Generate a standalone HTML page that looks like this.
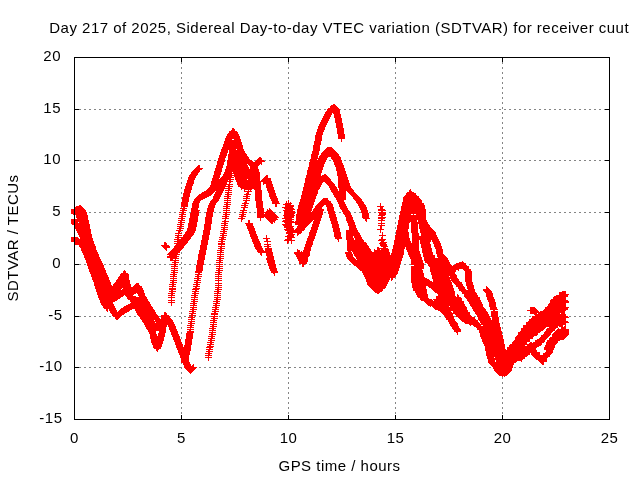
<!DOCTYPE html>
<html><head><meta charset="utf-8"><title>SDTVAR</title>
<style>
html,body{margin:0;padding:0;background:#fff;}
body{width:640px;height:480px;overflow:hidden;}
svg{display:block;will-change:transform;}
text{font-family:"Liberation Sans",sans-serif;font-size:15px;fill:#000;letter-spacing:0.49px;}
</style></head><body>
<svg width="640" height="480" viewBox="0 0 640 480">
<rect width="640" height="480" fill="#fff"/>
<path d="M181.5 57V419M288.5 57V419M395.5 57V419M502.5 57V419M74 109.5H609M74 160.5H609M74 212.5H609M74 264.5H609M74 316.5H609M74 367.5H609" stroke="#858585" stroke-width="1" stroke-dasharray="2 3" fill="none" shape-rendering="crispEdges"/>
<path d="M74.5 420v-5M74.5 57v5M181.5 420v-5M181.5 57v5M288.5 420v-5M288.5 57v5M395.5 420v-5M395.5 57v5M502.5 420v-5M502.5 57v5M609.5 420v-5M609.5 57v5M74 57.5h5M610 57.5h-5M74 109.5h5M610 109.5h-5M74 160.5h5M610 160.5h-5M74 212.5h5M610 212.5h-5M74 264.5h5M610 264.5h-5M74 316.5h5M610 316.5h-5M74 367.5h5M610 367.5h-5M74 419.5h5M610 419.5h-5" stroke="#000" stroke-width="1" fill="none" shape-rendering="crispEdges"/>
<g transform="translate(0 .5)"><path d="M333 104h2M331 105h5M330 106h7M330 107h8M328 108h11M327 109h13M327 110h13M326 111h14M325 112h15M325 113h7M333 113h7M324 114h8M334 114h7M324 115h7M334 115h7M323 116h8M334 116h7M323 117h7M334 117h7M322 118h8M335 118h7M322 119h7M335 119h7M321 120h8M335 120h7M321 121h7M335 121h7M320 122h8M335 122h7M320 123h7M336 123h7M319 124h8M336 124h7M319 125h7M336 125h7M318 126h8M336 126h7M318 127h7M336 127h7M232 128h2M318 128h7M337 128h7M232 129h3M317 129h8M337 129h7M231 130h4M317 130h7M337 130h7M229 131h8M317 131h7M337 131h7M229 132h9M316 132h7M337 132h7M228 133h10M316 133h7M337 133h7M227 134h12M316 134h7M338 134h7M227 135h12M315 135h7M338 135h7M226 136h14M315 136h7M338 136h7M226 137h14M315 137h7M338 137h7M225 138h15M315 138h7M338 138h7M225 139h7M234 139h7M315 139h7M341 139h1M225 140h16M315 140h7M341 140h1M224 141h17M314 141h7M341 141h1M224 142h18M314 142h7M224 143h18M314 143h7M223 144h19M314 144h7M223 145h20M313 145h7M223 146h20M313 146h7M222 147h21M313 147h7M327 147h5M222 148h21M313 148h7M326 148h7M221 149h15M237 149h7M313 149h7M325 149h9M221 150h7M229 150h15M313 150h7M324 150h11M221 151h7M229 151h16M312 151h7M323 151h13M220 152h8M229 152h16M312 152h7M322 152h15M220 153h7M229 153h17M312 153h7M321 153h17M220 154h7M228 154h19M311 154h8M321 154h18M219 155h8M228 155h19M311 155h7M320 155h19M219 156h7M228 156h20M311 156h7M319 156h21M219 157h7M228 157h21M259 157h2M311 157h7M319 157h9M331 157h10M218 158h7M228 158h21M258 158h4M311 158h16M331 158h10M218 159h7M228 159h22M257 159h5M310 159h7M318 159h9M332 159h9M218 160h7M227 160h25M256 160h8M310 160h16M333 160h9M217 161h8M227 161h26M255 161h10M310 161h16M333 161h9M217 162h7M227 162h35M309 162h16M334 162h8M217 163h7M227 163h35M309 163h16M334 163h9M217 164h7M227 164h20M248 164h12M261 164h1M309 164h15M334 164h9M198 165h2M216 165h7M227 165h21M249 165h10M309 165h15M335 165h9M197 166h3M216 166h7M226 166h22M250 166h8M309 166h15M335 166h9M196 167h4M216 167h7M226 167h23M250 167h8M308 167h15M336 167h8M195 168h8M215 168h7M226 168h23M250 168h8M308 168h15M336 168h9M194 169h8M215 169h7M225 169h34M308 169h15M336 169h9M193 170h7M215 170h7M225 170h34M307 170h15M336 170h9M192 171h8M214 171h8M225 171h34M307 171h15M337 171h9M191 172h8M214 172h7M224 172h8M233 172h27M307 172h15M337 172h9M191 173h7M214 173h7M224 173h36M307 173h14M337 173h9M190 174h8M214 174h7M223 174h9M234 174h26M307 174h14M324 174h2M337 174h10M189 175h8M213 175h7M223 175h37M266 175h2M306 175h15M322 175h5M337 175h10M189 176h7M213 176h7M222 176h10M234 176h26M265 176h3M306 176h22M338 176h9M188 177h8M213 177h7M221 177h13M235 177h25M264 177h4M306 177h23M338 177h10M188 178h7M212 178h7M220 178h11M235 178h25M263 178h8M305 178h25M338 178h10M188 179h7M212 179h22M235 179h12M248 179h12M262 179h9M305 179h26M338 179h10M187 180h7M212 180h16M229 180h2M236 180h24M261 180h10M305 180h26M338 180h11M187 181h7M211 181h22M236 181h36M305 181h27M338 181h11M187 182h7M211 182h16M229 182h2M237 182h24M263 182h9M305 182h18M325 182h8M338 182h11M186 183h8M211 183h16M229 183h1M237 183h24M263 183h9M304 183h18M326 183h8M338 183h12M186 184h7M211 184h22M237 184h24M263 184h1M266 184h7M304 184h18M327 184h8M338 184h12M186 185h7M210 185h16M228 185h2M238 185h23M266 185h7M304 185h17M328 185h7M338 185h12M185 186h7M210 186h23M238 186h23M266 186h7M304 186h17M329 186h7M338 186h13M185 187h7M209 187h16M228 187h2M240 187h21M266 187h8M303 187h17M329 187h8M338 187h13M185 188h7M208 188h24M241 188h20M267 188h7M303 188h17M330 188h7M339 188h13M184 189h8M207 189h17M228 189h2M241 189h1M244 189h8M254 189h7M267 189h7M303 189h16M330 189h8M339 189h14M410 189h1M184 190h7M206 190h18M225 190h7M244 190h1M248 190h1M250 190h1M255 190h7M267 190h8M303 190h15M331 190h7M339 190h15M409 190h2M184 191h7M204 191h11M216 191h7M228 191h1M244 191h8M255 191h7M268 191h7M302 191h16M331 191h15M347 191h7M409 191h3M184 192h7M202 192h12M215 192h8M225 192h7M247 192h2M255 192h7M268 192h7M302 192h16M332 192h14M348 192h7M407 192h7M183 193h7M201 193h12M215 193h7M227 193h2M246 193h3M255 193h7M269 193h7M302 193h16M333 193h13M349 193h7M406 193h10M183 194h7M199 194h13M214 194h8M225 194h7M244 194h7M255 194h7M269 194h7M302 194h15M333 194h13M350 194h7M406 194h10M183 195h7M198 195h13M214 195h7M227 195h2M246 195h2M255 195h7M269 195h7M301 195h16M334 195h12M351 195h7M405 195h12M183 196h7M197 196h12M213 196h8M224 196h7M243 196h7M255 196h7M269 196h8M301 196h15M334 196h12M352 196h7M404 196h15M182 197h7M196 197h11M213 197h7M227 197h2M246 197h2M255 197h7M270 197h7M301 197h15M335 197h11M353 197h7M403 197h16M182 198h7M195 198h10M213 198h7M224 198h7M243 198h7M255 198h7M270 198h8M301 198h15M323 198h5M336 198h10M353 198h8M403 198h17M182 199h7M194 199h9M212 199h7M227 199h1M246 199h1M255 199h7M271 199h7M300 199h15M322 199h6M336 199h10M354 199h8M403 199h18M182 200h7M194 200h7M211 200h8M224 200h7M243 200h7M255 200h7M271 200h7M288 200h1M300 200h15M321 200h8M337 200h7M355 200h7M403 200h19M182 201h7M193 201h7M210 201h8M227 201h1M245 201h2M256 201h7M272 201h7M286 201h1M288 201h1M300 201h15M320 201h11M337 201h7M356 201h7M403 201h19M181 202h7M193 202h7M210 202h7M224 202h7M244 202h3M256 202h7M272 202h7M286 202h1M288 202h1M290 202h1M299 202h15M319 202h12M338 202h7M356 202h8M402 202h20M181 203h7M192 203h7M209 203h7M226 203h2M242 203h7M256 203h7M272 203h8M285 203h7M299 203h15M318 203h14M338 203h7M357 203h7M380 203h1M402 203h22M181 204h7M192 204h7M209 204h7M224 204h7M244 204h2M256 204h7M275 204h2M283 204h8M299 204h15M317 204h16M339 204h7M358 204h7M380 204h1M402 204h22M79 205h2M181 205h7M192 205h7M208 205h7M226 205h2M241 205h7M256 205h7M275 205h2M285 205h9M298 205h15M316 205h8M326 205h7M339 205h7M358 205h8M380 205h1M402 205h23M74 206h1M76 206h6M181 206h7M192 206h7M208 206h7M223 206h7M244 206h2M256 206h7M275 206h2M285 206h9M298 206h15M315 206h8M326 206h7M339 206h8M359 206h7M377 206h7M401 206h24M74 207h9M183 207h2M192 207h7M208 207h7M226 207h2M241 207h7M256 207h7M282 207h11M298 207h15M315 207h7M327 207h7M340 207h7M359 207h8M380 207h3M401 207h24M74 208h10M180 208h7M191 208h7M207 208h7M223 208h7M243 208h2M257 208h7M269 208h1M284 208h10M298 208h14M314 208h8M327 208h7M340 208h8M360 208h7M380 208h3M401 208h24M71 209h14M182 209h3M191 209h7M207 209h7M226 209h1M243 209h2M257 209h7M267 209h1M269 209h2M285 209h10M297 209h15M313 209h11M327 209h7M341 209h7M360 209h7M378 209h7M401 209h25M71 210h15M180 210h7M191 210h9M207 210h7M223 210h7M240 210h7M257 210h7M267 210h5M283 210h10M297 210h15M313 210h11M327 210h7M342 210h7M361 210h7M378 210h8M401 210h25M71 211h15M182 211h2M191 211h8M207 211h7M226 211h1M242 211h2M257 211h7M266 211h7M284 211h11M297 211h14M312 211h11M328 211h7M342 211h8M361 211h7M381 211h2M400 211h26M71 212h16M179 212h7M191 212h8M206 212h7M223 212h7M240 212h7M257 212h17M284 212h11M297 212h26M328 212h7M343 212h7M361 212h7M378 212h8M400 212h26M71 213h16M182 213h2M190 213h9M206 213h7M225 213h2M242 213h2M257 213h7M265 213h10M284 213h11M297 213h26M328 213h7M343 213h8M362 213h7M379 213h7M400 213h26M73 214h14M179 214h7M190 214h9M206 214h7M223 214h7M239 214h7M257 214h19M284 214h10M296 214h27M329 214h7M344 214h7M362 214h7M379 214h7M400 214h11M413 214h1M416 214h10M74 215h1M76 215h12M181 215h2M190 215h9M206 215h7M225 215h2M241 215h3M257 215h20M283 215h12M296 215h26M329 215h7M345 215h7M362 215h7M378 215h7M399 215h27M74 216h1M76 216h12M179 216h7M190 216h8M206 216h7M222 216h7M239 216h7M257 216h21M284 216h10M296 216h26M329 216h7M345 216h7M362 216h7M381 216h2M399 216h27M74 217h1M76 217h12M181 217h2M190 217h8M205 217h7M225 217h2M241 217h2M257 217h7M265 217h14M284 217h10M296 217h26M329 217h8M346 217h7M362 217h7M378 217h8M399 217h27M74 218h1M77 218h11M178 218h7M189 218h9M205 218h7M222 218h7M238 218h7M260 218h1M266 218h11M282 218h10M296 218h25M330 218h7M346 218h7M363 218h7M378 218h7M399 218h27M71 219h17M181 219h2M189 219h9M205 219h7M225 219h1M241 219h2M260 219h1M267 219h11M285 219h9M296 219h25M330 219h7M346 219h7M365 219h2M381 219h2M399 219h27M71 220h18M178 220h7M189 220h9M205 220h7M224 220h2M241 220h1M248 220h2M260 220h1M268 220h8M283 220h9M296 220h17M314 220h7M330 220h7M346 220h8M365 220h2M378 220h7M398 220h19M418 220h9M71 221h18M180 221h2M189 221h9M205 221h7M222 221h7M241 221h1M248 221h2M269 221h6M282 221h12M295 221h17M313 221h7M331 221h7M347 221h7M366 221h1M381 221h1M398 221h19M418 221h9M71 222h7M79 222h10M178 222h7M189 222h8M205 222h7M224 222h2M248 222h2M270 222h3M274 222h1M284 222h27M313 222h7M331 222h7M347 222h8M381 222h1M398 222h12M411 222h17M71 223h18M180 223h2M188 223h9M205 223h7M221 223h7M245 223h8M271 223h2M285 223h7M295 223h15M313 223h7M331 223h7M348 223h7M378 223h7M398 223h11M411 223h17M72 224h18M177 224h7M188 224h9M204 224h7M224 224h2M246 224h7M282 224h10M295 224h14M312 224h7M332 224h7M348 224h7M381 224h1M398 224h11M411 224h7M419 224h10M74 225h16M180 225h2M188 225h9M204 225h7M221 225h7M246 225h7M283 225h9M298 225h10M312 225h7M332 225h7M348 225h8M378 225h7M397 225h12M411 225h7M419 225h11M74 226h16M177 226h7M188 226h9M204 226h7M224 226h1M247 226h7M284 226h10M297 226h10M312 226h7M332 226h7M349 226h7M380 226h2M397 226h12M411 226h7M419 226h11M75 227h15M179 227h2M188 227h8M204 227h7M221 227h7M247 227h7M284 227h9M297 227h9M311 227h7M332 227h7M349 227h7M380 227h2M397 227h12M411 227h7M419 227h12M75 228h15M177 228h7M187 228h9M204 228h7M223 228h2M247 228h8M286 228h8M296 228h9M311 228h7M333 228h7M349 228h8M380 228h2M397 228h12M411 228h7M419 228h13M76 229h15M179 229h2M187 229h9M204 229h7M221 229h7M248 229h7M284 229h10M295 229h10M311 229h7M333 229h7M349 229h8M377 229h7M397 229h11M411 229h7M420 229h13M76 230h15M176 230h7M187 230h9M203 230h7M223 230h2M248 230h7M285 230h19M310 230h7M333 230h7M346 230h12M380 230h1M396 230h12M411 230h7M420 230h14M77 231h14M178 231h3M186 231h9M203 231h7M220 231h7M249 231h7M287 231h15M310 231h7M333 231h7M346 231h12M380 231h1M396 231h12M411 231h7M420 231h15M77 232h14M178 232h2M185 232h10M203 232h7M223 232h2M249 232h7M286 232h16M309 232h8M334 232h7M346 232h13M380 232h1M382 232h1M396 232h13M411 232h7M420 232h16M78 233h13M175 233h7M185 233h9M203 233h7M220 233h7M249 233h7M286 233h7M297 233h4M309 233h7M334 233h7M346 233h14M382 233h1M396 233h13M412 233h7M421 233h15M74 234h1M78 234h14M178 234h1M184 234h10M203 234h7M222 234h2M250 234h7M288 234h7M297 234h2M309 234h7M334 234h7M346 234h14M382 234h1M396 234h13M412 234h7M421 234h15M74 235h1M79 235h13M175 235h7M183 235h10M202 235h7M220 235h7M250 235h7M266 235h1M287 235h7M297 235h1M309 235h7M334 235h7M346 235h15M379 235h7M395 235h14M412 235h7M421 235h16M74 236h1M79 236h13M177 236h2M183 236h9M202 236h7M222 236h2M250 236h8M266 236h1M285 236h9M308 236h7M334 236h7M346 236h7M354 236h7M382 236h1M395 236h14M412 236h25M71 237h7M80 237h12M175 237h16M202 237h7M219 237h7M251 237h7M266 237h1M287 237h8M308 237h7M335 237h7M346 237h7M354 237h8M381 237h2M395 237h14M412 237h26M71 238h8M80 238h13M177 238h2M181 238h10M202 238h7M221 238h3M251 238h7M263 238h7M287 238h5M307 238h8M335 238h7M346 238h8M355 238h7M381 238h2M395 238h15M412 238h26M71 239h22M174 239h16M202 239h7M219 239h7M252 239h7M266 239h2M285 239h7M307 239h7M337 239h2M346 239h8M355 239h8M379 239h7M395 239h15M412 239h27M71 240h22M177 240h12M201 240h7M221 240h2M252 240h7M266 240h2M284 240h11M307 240h7M338 240h1M347 240h17M378 240h7M394 240h16M412 240h7M420 240h11M432 240h7M71 241h23M174 241h14M201 241h7M218 241h7M252 241h8M264 241h7M287 241h2M291 241h1M306 241h7M338 241h1M347 241h17M381 241h3M394 241h17M412 241h7M420 241h11M432 241h8M74 242h20M164 242h2M177 242h11M201 242h7M221 242h2M253 242h7M267 242h1M287 242h2M291 242h1M306 242h7M347 242h19M380 242h7M394 242h17M412 242h7M420 242h10M433 242h7M74 243h20M164 243h3M174 243h13M201 243h7M218 243h7M253 243h8M267 243h1M287 243h1M291 243h1M306 243h7M347 243h20M379 243h7M394 243h25M420 243h10M433 243h8M74 244h21M164 244h3M176 244h10M201 244h7M218 244h7M254 244h7M264 244h7M305 244h8M347 244h20M380 244h7M394 244h25M421 244h10M434 244h7M79 245h16M161 245h8M175 245h10M200 245h7M221 245h1M254 245h7M267 245h2M305 245h7M347 245h21M380 245h7M393 245h26M421 245h10M434 245h7M79 246h17M162 246h8M174 246h10M200 246h7M218 246h7M254 246h8M264 246h7M305 246h7M347 246h22M381 246h7M393 246h26M421 246h10M434 246h8M80 247h16M163 247h7M174 247h10M200 247h7M220 247h2M255 247h7M267 247h2M304 247h7M347 247h22M377 247h2M383 247h3M393 247h12M406 247h13M421 247h10M435 247h7M81 248h15M164 248h3M173 248h10M200 248h7M218 248h7M255 248h8M265 248h7M304 248h7M347 248h23M377 248h11M393 248h12M406 248h13M422 248h10M435 248h7M81 249h15M165 249h2M172 249h10M200 249h7M220 249h2M256 249h7M265 249h7M297 249h1M304 249h7M347 249h24M374 249h1M377 249h3M381 249h8M392 249h12M406 249h13M422 249h10M436 249h7M81 250h16M166 250h1M171 250h10M199 250h7M217 250h7M257 250h7M265 250h7M297 250h3M303 250h8M347 250h24M374 250h15M392 250h12M407 250h12M422 250h10M436 250h7M82 251h15M170 251h10M199 251h7M220 251h2M257 251h15M297 251h3M301 251h1M303 251h7M348 251h3M352 251h20M374 251h15M392 251h12M407 251h13M422 251h10M436 251h7M82 252h16M169 252h11M199 252h7M217 252h7M258 252h15M294 252h16M345 252h7M353 252h37M392 252h12M408 252h12M422 252h11M436 252h7M83 253h15M168 253h10M199 253h7M220 253h1M260 253h2M266 253h7M294 253h16M345 253h7M353 253h37M391 253h13M408 253h12M423 253h10M436 253h7M83 254h16M167 254h13M198 254h8M217 254h7M260 254h2M266 254h7M295 254h15M346 254h7M354 254h36M391 254h13M408 254h13M423 254h10M437 254h7M84 255h15M169 255h8M198 255h7M220 255h1M261 255h1M266 255h7M296 255h14M346 255h7M354 255h49M409 255h12M423 255h12M437 255h8M84 256h15M167 256h12M198 256h7M217 256h7M267 256h7M296 256h13M346 256h7M355 256h48M409 256h12M423 256h12M437 256h9M84 257h16M167 257h10M198 257h7M219 257h2M267 257h7M297 257h11M347 257h7M356 257h47M410 257h12M424 257h11M438 257h9M85 258h15M170 258h9M198 258h7M217 258h7M266 258h8M297 258h11M347 258h8M356 258h46M410 258h12M424 258h24M85 259h16M170 259h3M175 259h1M198 259h7M219 259h2M266 259h8M298 259h10M348 259h8M357 259h45M411 259h11M424 259h24M86 260h15M170 260h9M197 260h7M216 260h7M267 260h8M298 260h10M349 260h53M411 260h12M424 260h25M86 261h16M174 261h2M197 261h7M219 261h2M267 261h8M299 261h9M350 261h51M411 261h12M425 261h24M462 261h1M86 262h16M172 262h7M197 262h7M216 262h7M267 262h8M299 262h8M351 262h50M411 262h12M425 262h25M459 262h5M87 263h16M174 263h2M197 263h7M219 263h1M268 263h7M299 263h8M352 263h49M411 263h13M427 263h23M456 263h10M87 264h16M171 264h7M197 264h7M216 264h7M268 264h8M302 264h3M353 264h47M411 264h13M428 264h23M455 264h11M87 265h17M174 265h2M196 265h7M219 265h1M268 265h8M302 265h2M354 265h46M414 265h10M428 265h24M453 265h14M88 266h16M171 266h7M196 266h7M216 266h7M269 266h7M302 266h2M356 266h44M411 266h13M429 266h40M88 267h16M174 267h1M196 267h7M219 267h1M269 267h7M357 267h43M411 267h13M430 267h39M88 268h17M171 268h7M196 268h7M216 268h7M269 268h8M358 268h41M411 268h13M430 268h39M89 269h16M174 269h1M196 269h7M218 269h2M270 269h7M359 269h40M411 269h11M430 269h29M463 269h8M89 270h17M124 270h1M171 270h7M196 270h7M216 270h7M270 270h7M360 270h39M411 270h12M430 270h26M458 270h1M464 270h7M89 271h17M123 271h3M173 271h2M195 271h7M218 271h2M271 271h7M362 271h36M411 271h12M430 271h26M465 271h7M90 272h16M123 272h3M171 272h7M195 272h7M215 272h7M271 272h7M362 272h36M411 272h12M431 272h24M465 272h7M90 273h17M121 273h7M173 273h2M198 273h2M218 273h2M273 273h2M363 273h35M411 273h13M431 273h24M465 273h7M91 274h16M120 274h9M170 274h7M195 274h7M215 274h7M274 274h1M363 274h34M411 274h13M431 274h25M465 274h7M91 275h17M120 275h9M173 275h2M197 275h2M218 275h1M274 275h1M364 275h32M411 275h13M432 275h25M465 275h7M91 276h17M119 276h10M170 276h7M195 276h7M215 276h7M364 276h32M411 276h13M432 276h17M450 276h7M465 276h7M92 277h17M118 277h11M173 277h1M197 277h2M218 277h1M365 277h30M411 277h14M432 277h25M465 277h7M92 278h17M118 278h11M170 278h7M194 278h7M215 278h7M365 278h25M391 278h2M411 278h16M432 278h26M465 278h7M92 279h17M117 279h12M173 279h1M197 279h2M218 279h1M366 279h24M391 279h2M411 279h18M433 279h17M451 279h8M465 279h7M93 280h17M116 280h14M170 280h7M194 280h7M215 280h7M366 280h23M391 280h1M411 280h19M433 280h26M465 280h7M93 281h17M116 281h14M172 281h2M196 281h2M218 281h1M366 281h23M411 281h21M433 281h18M452 281h8M465 281h7M94 282h17M115 282h15M170 282h7M194 282h7M218 282h1M367 282h21M411 282h41M453 282h9M466 282h7M94 283h17M114 283h16M136 283h3M172 283h2M196 283h2M215 283h7M367 283h21M412 283h40M454 283h8M466 283h7M94 284h17M113 284h18M135 284h4M169 284h7M193 284h7M218 284h1M367 284h20M412 284h40M455 284h8M466 284h7M94 285h18M113 285h18M134 285h6M172 285h2M196 285h2M215 285h7M368 285h19M412 285h41M456 285h7M466 285h8M95 286h36M133 286h9M169 286h7M193 286h7M218 286h1M369 286h17M412 286h14M428 286h25M456 286h8M467 286h7M486 286h1M95 287h47M172 287h1M195 287h2M215 287h7M370 287h16M412 287h14M429 287h24M458 287h7M467 287h7M486 287h2M95 288h27M123 288h20M169 288h7M193 288h7M217 288h2M371 288h14M413 288h13M431 288h23M458 288h7M467 288h7M486 288h3M96 289h25M122 289h21M169 289h7M192 289h7M215 289h7M372 289h11M413 289h14M432 289h22M459 289h7M468 289h7M483 289h7M96 290h48M171 290h2M195 290h2M217 290h2M373 290h10M413 290h14M433 290h21M459 290h16M483 290h8M96 291h48M169 291h7M192 291h7M214 291h7M374 291h8M415 291h12M434 291h21M461 291h14M484 291h8M562 291h4M97 292h47M171 292h2M194 292h2M217 292h2M375 292h5M415 292h12M435 292h20M462 292h14M485 292h7M559 292h7M97 293h39M137 293h8M168 293h7M192 293h7M214 293h7M377 293h2M416 293h11M437 293h18M462 293h15M486 293h7M559 293h7M97 294h37M138 294h7M171 294h2M194 294h2M217 294h1M416 294h12M438 294h17M457 294h1M464 294h13M486 294h7M559 294h10M98 295h26M125 295h8M138 295h7M168 295h7M191 295h7M214 295h7M417 295h11M438 295h17M457 295h2M464 295h14M486 295h7M556 295h12M98 296h25M126 296h10M139 296h7M171 296h1M194 296h2M217 296h1M417 296h11M436 296h20M457 296h2M464 296h14M486 296h7M554 296h14M98 297h23M127 297h20M168 297h7M191 297h7M214 297h7M418 297h10M436 297h25M465 297h15M487 297h7M553 297h13M99 298h21M127 298h20M171 298h1M194 298h1M216 298h2M420 298h9M436 298h26M466 298h14M487 298h7M553 298h13M99 299h19M128 299h20M171 299h1M191 299h7M214 299h7M420 299h12M433 299h29M467 299h13M487 299h8M551 299h15M100 300h17M130 300h18M168 300h7M193 300h2M216 300h2M421 300h12M434 300h28M467 300h14M488 300h7M550 300h18M100 301h15M130 301h19M171 301h1M191 301h7M213 301h7M424 301h40M468 301h13M488 301h7M550 301h19M100 302h13M131 302h19M168 302h7M193 302h2M216 302h2M425 302h39M469 302h13M489 302h7M550 302h19M101 303h12M130 303h20M171 303h1M190 303h7M213 303h7M426 303h38M469 303h13M489 303h7M549 303h17M101 304h13M128 304h23M171 304h1M193 304h2M215 304h2M427 304h38M470 304h13M489 304h7M548 304h18M102 305h12M126 305h25M171 305h1M190 305h7M213 305h7M428 305h37M470 305h13M489 305h7M548 305h18M103 306h12M124 306h28M193 306h1M215 306h2M430 306h1M432 306h17M450 306h16M471 306h12M489 306h7M547 306h19M103 307h12M123 307h30M190 307h7M212 307h7M433 307h34M472 307h12M490 307h7M530 307h5M545 307h24M104 308h12M121 308h32M192 308h2M215 308h2M434 308h33M472 308h13M490 308h7M530 308h6M545 308h23M106 309h2M109 309h7M120 309h12M135 309h19M190 309h7M212 309h7M435 309h32M473 309h13M490 309h8M530 309h7M544 309h24M106 310h2M109 310h8M119 310h11M135 310h20M192 310h2M214 310h2M438 310h30M473 310h13M493 310h2M527 310h11M543 310h23M107 311h1M110 311h7M118 311h11M136 311h19M189 311h7M212 311h7M440 311h11M453 311h15M474 311h13M491 311h7M530 311h9M540 311h25M110 312h17M136 312h20M164 312h2M192 312h2M214 312h2M441 312h11M453 312h17M475 312h13M491 312h7M530 312h35M111 313h14M137 313h19M164 313h3M189 313h7M211 313h7M442 313h28M475 313h13M491 313h7M530 313h7M538 313h22M561 313h4M112 314h12M137 314h20M164 314h3M191 314h2M211 314h7M443 314h10M455 314h15M476 314h13M491 314h7M534 314h32M112 315h10M138 315h20M161 315h8M189 315h7M214 315h1M444 315h9M456 315h15M477 315h12M491 315h7M535 315h31M113 316h8M139 316h20M161 316h9M191 316h2M211 316h7M445 316h9M456 316h16M477 316h13M491 316h7M532 316h36M115 317h5M140 317h19M161 317h9M188 317h7M213 317h2M445 317h9M458 317h17M478 317h12M492 317h7M532 317h37M115 318h4M140 318h20M161 318h10M191 318h2M211 318h7M446 318h8M459 318h16M478 318h13M492 318h7M531 318h35M116 319h2M141 319h31M188 319h7M213 319h2M446 319h9M460 319h16M478 319h13M492 319h7M529 319h37M142 320h12M155 320h18M191 320h1M210 320h7M448 320h7M461 320h17M479 320h20M529 320h37M142 321h31M188 321h7M213 321h2M448 321h8M462 321h16M480 321h19M528 321h40M143 322h12M156 322h18M190 322h2M210 322h7M449 322h8M464 322h15M480 322h19M526 322h43M144 323h30M188 323h7M213 323h1M449 323h9M465 323h15M481 323h19M526 323h40M144 324h31M190 324h2M210 324h7M450 324h8M469 324h31M526 324h40M145 325h22M168 325h7M187 325h7M212 325h2M450 325h8M470 325h1M473 325h8M483 325h17M523 325h40M565 325h1M145 326h22M168 326h8M190 326h2M210 326h7M451 326h8M474 326h26M523 326h35M559 326h4M564 326h2M146 327h20M169 327h7M187 327h7M212 327h2M452 327h7M476 327h25M523 327h23M549 327h9M561 327h5M146 328h20M169 328h7M190 328h1M209 328h7M452 328h8M477 328h24M521 328h24M547 328h9M558 328h1M561 328h5M147 329h19M169 329h8M187 329h7M212 329h2M453 329h8M477 329h24M521 329h23M546 329h9M557 329h12M148 330h18M170 330h7M189 330h2M209 330h7M454 330h7M479 330h22M521 330h22M546 330h9M556 330h13M148 331h8M159 331h7M170 331h8M187 331h7M212 331h1M454 331h7M479 331h23M520 331h21M545 331h8M555 331h14M149 332h7M159 332h7M171 332h7M187 332h7M209 332h7M456 332h2M479 332h23M518 332h22M544 332h8M554 332h15M149 333h7M158 333h7M171 333h7M186 333h7M211 333h2M457 333h1M480 333h22M518 333h20M544 333h7M553 333h16M150 334h7M158 334h7M171 334h8M186 334h7M209 334h7M457 334h1M480 334h22M518 334h20M543 334h8M552 334h17M150 335h7M158 335h7M172 335h7M186 335h7M211 335h2M480 335h23M517 335h20M541 335h9M552 335h16M150 336h15M172 336h8M186 336h7M208 336h7M480 336h23M516 336h18M541 336h8M552 336h15M150 337h14M173 337h7M186 337h7M211 337h2M481 337h22M515 337h18M540 337h8M550 337h16M150 338h14M173 338h7M186 338h7M208 338h7M481 338h22M515 338h18M539 338h8M549 338h16M151 339h13M173 339h8M185 339h7M210 339h2M482 339h22M515 339h15M537 339h9M549 339h15M151 340h13M174 340h7M185 340h7M208 340h7M482 340h22M514 340h16M535 340h10M547 340h13M151 341h12M174 341h7M185 341h7M210 341h2M482 341h22M513 341h17M535 341h10M547 341h11M151 342h12M175 342h7M185 342h7M207 342h7M483 342h21M512 342h15M530 342h2M533 342h11M546 342h12M152 343h11M175 343h7M185 343h7M210 343h2M483 343h21M512 343h15M529 343h13M546 343h11M152 344h10M175 344h8M185 344h7M207 344h7M484 344h21M510 344h32M546 344h10M153 345h9M176 345h7M184 345h7M209 345h2M484 345h21M509 345h16M527 345h14M545 345h10M153 346h9M176 346h7M184 346h7M207 346h7M485 346h20M509 346h30M545 346h10M153 347h8M176 347h15M206 347h7M485 347h20M507 347h30M544 347h11M154 348h7M177 348h14M209 348h2M485 348h20M507 348h29M544 348h10M156 349h3M177 349h14M206 349h7M485 349h21M507 349h29M544 349h10M156 350h2M178 350h13M208 350h2M485 350h52M546 350h7M157 351h1M178 351h12M206 351h7M486 351h51M546 351h7M178 352h12M208 352h2M486 352h54M545 352h8M179 353h11M205 353h7M486 353h44M531 353h9M543 353h9M179 354h11M208 354h2M486 354h44M531 354h9M543 354h8M180 355h9M205 355h7M486 355h42M532 355h18M180 356h9M208 356h1M487 356h40M533 356h17M180 357h9M205 357h7M487 357h7M495 357h30M534 357h14M181 358h8M208 358h1M487 358h38M535 358h12M181 359h8M208 359h1M488 359h35M536 359h11M181 360h8M208 360h1M488 360h7M496 360h26M538 360h9M181 361h8M488 361h7M496 361h21M521 361h1M539 361h8M181 362h9M488 362h28M540 362h4M183 363h7M489 363h25M541 363h3M183 364h8M193 364h1M490 364h24M542 364h2M184 365h7M192 365h2M491 365h22M184 366h10M492 366h21M184 367h13M493 367h20M185 368h11M493 368h19M186 369h9M494 369h18M187 370h7M494 370h18M188 371h5M495 371h16M189 372h3M496 372h14M190 373h1M497 373h12M498 374h10M499 375h8M502 376h1M504 376h1" stroke="#f00" stroke-width="1" fill="none" shape-rendering="crispEdges"/></g>
<path d="M74.5 57.5H609.5V419.5H74.5Z" stroke="#000" stroke-width="1" fill="none" shape-rendering="crispEdges"/>
<text x="74.5" y="442.6" text-anchor="middle">0</text>
<text x="181.5" y="442.6" text-anchor="middle">5</text>
<text x="288.5" y="442.6" text-anchor="middle">10</text>
<text x="395.5" y="442.6" text-anchor="middle">15</text>
<text x="502.5" y="442.6" text-anchor="middle">20</text>
<text x="609.5" y="442.6" text-anchor="middle">25</text>
<text x="61.0" y="61.3" text-anchor="end">20</text>
<text x="61.0" y="113.3" text-anchor="end">15</text>
<text x="61.0" y="164.3" text-anchor="end">10</text>
<text x="61.0" y="216.3" text-anchor="end">5</text>
<text x="61.0" y="268.3" text-anchor="end">0</text>
<text x="62.5" y="320.3" text-anchor="end">-5</text>
<text x="62.5" y="371.3" text-anchor="end">-10</text>
<text x="62.5" y="423.3" text-anchor="end">-15</text>
<text x="339.2" y="33" text-anchor="middle">Day 217 of 2025, Sidereal Day-to-day VTEC variation (SDTVAR) for receiver cuut</text>
<text x="339.5" y="471" text-anchor="middle">GPS time / hours</text>
<text transform="translate(18 238) rotate(-90)" text-anchor="middle">SDTVAR / TECUs</text>
</svg>
</body></html>
